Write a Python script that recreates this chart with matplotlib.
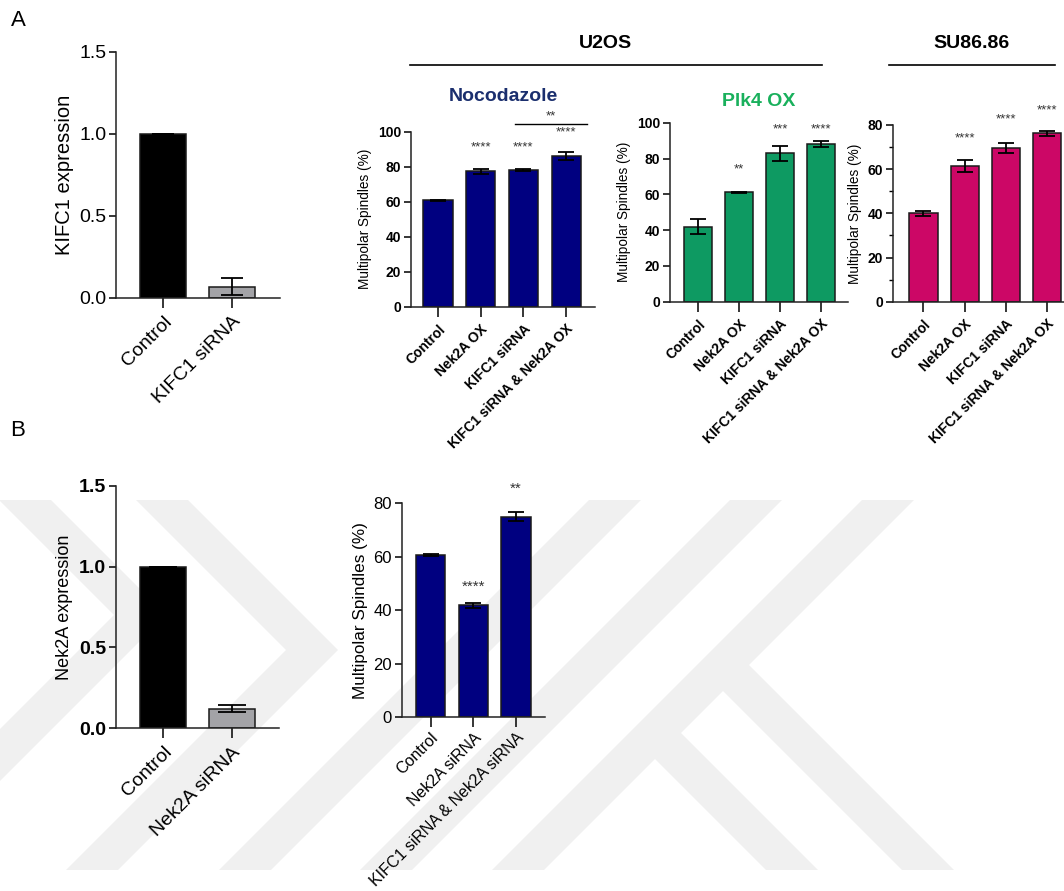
import matplotlib
matplotlib.use('Agg')
import matplotlib.pyplot as plt
from matplotlib.patches import Polygon
from matplotlib.lines import Line2D

plt.rcParams['font.family'] = ['Liberation Sans', 'DejaVu Sans']

W, H = 1064, 891

# --- data ---
kifc1_groups = ['Control', 'KIFC1 siRNA']
kifc1_expr = [1.0, 0.07]
kifc1_err = [0.0, 0.05]

ox_groups = ['Control', 'Nek2A OX', 'KIFC1 siRNA', 'KIFC1 siRNA & Nek2A OX']
noco_vals = [60.7, 77.3, 78.1, 86.0]
noco_err = [0.5, 1.3, 0.3, 2.4]
noco_stars = ['', '****', '****', '****']
noco_star_y = [0, 91, 91, 99.6]

plk4_vals = [42.0, 61.2, 83.0, 88.0]
plk4_err = [4.0, 0.3, 4.2, 1.8]
plk4_stars = ['', '**', '***', '****']
plk4_star_y = [0, 74, 96.5, 96.5]

su86_vals = [40.0, 61.3, 69.7, 76.2]
su86_err = [1.2, 2.7, 2.2, 1.3]
su86_stars = ['', '****', '****', '****']
su86_star_y = [0, 73.7, 82.3, 86.5]

nek2a_groups = ['Control', 'Nek2A siRNA']
nek2a_expr = [1.0, 0.12]
nek2a_err = [0.0, 0.022]

si_groups = ['Control', 'Nek2A siRNA', 'KIFC1 siRNA & Nek2A siRNA']
si_vals = [60.7, 41.8, 75.0]
si_err = [0.3, 0.9, 1.8]
si_stars = ['', '****', '**']
si_star_y = [0, 48.7, 85.3]

fig = plt.figure(figsize=(W / 100, H / 100), dpi=100)

# faint background watermark (bands at 45 degrees, pixel coords)
wm = '#f0f0f0'
def add_poly(pts):
    fig.patches.append(Polygon([(x / W, 1 - y / H) for x, y in pts], closed=True,
                               transform=fig.transFigure, fc=wm, ec='none', zorder=-10))

def band(xt, yt, xb, yb, w=26):
    add_poly([(xt - w, yt), (xt + w, yt), (xb + w, yb), (xb - w, yb)])

def chevron(xt, xb, w=26, y0=500, y1=870):
    yt = (y1 + y0 + xb - xt) / 2
    xtip = xt + (yt - y0)
    add_poly([(xt - w, y0), (xt + w, y0), (xtip + w, yt), (xb + w, y1), (xb - w, y1), (xtip - w, yt)])

chevron(25, -115)
chevron(162, 92)
band(615, 500, 245, 870)
band(756, 500, 386, 870)
band(888, 500, 518, 870)
band(655, 733, 792, 870)
band(723, 665, 928, 870)


def px_axes(x0, x1, ytop, ybot):
    ax = fig.add_axes([x0 / W, 1 - ybot / H, (x1 - x0) / W, (ybot - ytop) / H])
    ax.patch.set_alpha(0)
    for s in ['top', 'right']:
        ax.spines[s].set_visible(False)
    for s in ['left', 'bottom']:
        ax.spines[s].set_linewidth(1.1)
        ax.spines[s].set_color('#222222')
    return ax


def bar_panel(ax, groups, vals, errs, colors, xlim, ylim, yticks, ylabel,
              tick_fs, lab_fs, xfs, bold_y, bold_x, width=0.68, capsize=6, xpad=4):
    x = list(range(len(groups)))
    ax.bar(x, vals, width=width, color=colors, edgecolor='#1a1a1a', linewidth=1.1, zorder=2)
    ax.errorbar(x, vals, yerr=errs, fmt='none', ecolor='black', elinewidth=1.3,
                capsize=capsize, capthick=1.3, zorder=3)
    ax.set_xlim(*xlim)
    ax.set_ylim(*ylim)
    ax.set_yticks(yticks)
    ax.set_xticks(x)
    ax.set_xticklabels(groups, rotation=45, ha='right', va='top', rotation_mode='anchor',
                       fontsize=xfs, fontweight='bold' if bold_x else 'normal')
    for t in ax.get_yticklabels():
        t.set_fontsize(tick_fs)
        t.set_fontweight('bold' if bold_y else 'normal')
    ax.set_ylabel(ylabel, fontsize=lab_fs)
    ax.tick_params(axis='y', direction='out', length=5, width=1.1, pad=2)
    ax.tick_params(axis='x', direction='out', length=7, width=1.1, pad=xpad)


def stars(ax, labels, ys, fs=9.5):
    for i, (s, y) in enumerate(zip(labels, ys)):
        if s:
            ax.text(i, y, s, ha='center', va='center', fontsize=fs, color='#333333', clip_on=False)


# A: KIFC1 expression
ax1 = px_axes(116, 280, 52, 298)
bar_panel(ax1, kifc1_groups, kifc1_expr, kifc1_err, ['black', '#a3a3a7'],
          (-0.68, 1.70), (0, 1.5), [0, 0.5, 1.0, 1.5], 'KIFC1 expression',
          14, 14.5, 14, False, False, width=0.667, capsize=8)
ax1.set_yticklabels(['0.0', '0.5', '1.0', '1.5'], fontsize=14)

# A: U2OS nocodazole
ax2 = px_axes(411, 595, 131.7, 306.7)
bar_panel(ax2, ox_groups, noco_vals, noco_err, '#000080', (-0.632, 3.677), (0, 100),
          [0, 20, 40, 60, 80, 100], 'Multipolar Spindles (%)', 10, 9.8, 10, True, True)
stars(ax2, noco_stars, noco_star_y)
ax2.plot([1.8, 3.5], [104.6, 104.6], color='black', lw=1.0, clip_on=False)
ax2.text(2.65, 109, '**', ha='center', va='center', fontsize=9.5, color='#333333', clip_on=False)
ax2.set_title('Nocodazole', fontsize=14, fontweight='bold', color='#1b2f6e', pad=22)

# A: U2OS Plk4 OX
ax3 = px_axes(670, 848, 122.7, 301.7)
bar_panel(ax3, ox_groups, plk4_vals, plk4_err, '#0e9a62', (-0.683, 3.659), (0, 100),
          [0, 20, 40, 60, 80, 100], 'Multipolar Spindles (%)', 10, 9.8, 10, True, True)
stars(ax3, plk4_stars, plk4_star_y)
ax3.set_title('Plk4 OX', fontsize=14, fontweight='bold', color='#19b05c', pad=12)

# A: SU86.86
ax4 = px_axes(893, 1064, 125, 301.7)
bar_panel(ax4, ox_groups, su86_vals, su86_err, '#cc0766', (-0.74, 3.41), (0, 80),
          [0, 20, 40, 60, 80], 'Multipolar Spindles (%)', 10, 9.8, 10, True, True)
ax4.set_yticks([10, 30, 50, 70], minor=True)
ax4.tick_params(axis='y', which='minor', length=3, width=1.0)
stars(ax4, su86_stars, su86_star_y)

# B: Nek2A expression
ax5 = px_axes(116, 279, 485.7, 728.3)
bar_panel(ax5, nek2a_groups, nek2a_expr, nek2a_err, ['black', '#a3a3a7'],
          (-0.68, 1.68), (0, 1.5), [0, 0.5, 1.0, 1.5], 'Nek2A expression',
          14, 13, 14, True, False, width=0.667, capsize=10)
ax5.set_yticklabels(['0.0', '0.5', '1.0', '1.5'], fontsize=14, fontweight='bold')

# B: Nek2A siRNA spindles
ax6 = px_axes(401.7, 545, 503.3, 717.3)
bar_panel(ax6, si_groups, si_vals, si_err, '#000080', (-0.674, 2.678), (0, 80),
          [0, 20, 40, 60, 80], 'Multipolar Spindles (%)', 12, 12.3, 11.5, False, False, xpad=2)
stars(ax6, si_stars, si_star_y, fs=11)

# cell line headers
fig.text(605 / W, 1 - 43 / H, 'U2OS', ha='center', va='center', fontsize=14, fontweight='bold')
fig.text(972 / W, 1 - 43 / H, 'SU86.86', ha='center', va='center', fontsize=14, fontweight='bold')
fig.add_artist(Line2D([410 / W, 822 / W], [1 - 65 / H, 1 - 65 / H], color='black', lw=1.2))
fig.add_artist(Line2D([889 / W, 1055 / W], [1 - 65 / H, 1 - 65 / H], color='black', lw=1.2))

# panel letters
fig.text(18 / W, 1 - 20 / H, 'A', ha='center', va='center', fontsize=16)
fig.text(18 / W, 1 - 430 / H, 'B', ha='center', va='center', fontsize=16)

fig.savefig('out.png', dpi=100)
